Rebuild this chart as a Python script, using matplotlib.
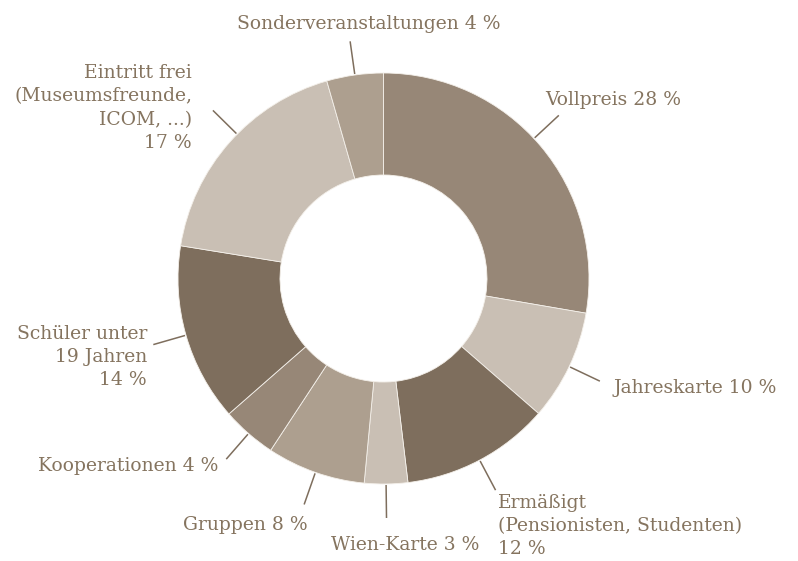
import numpy as np
import matplotlib
matplotlib.use("Agg")
import matplotlib.pyplot as plt

# shares as measured from the ring (clockwise from 12 o'clock)
categories = ["Vollpreis", "Jahreskarte", "Ermäßigt", "Wien-Karte", "Gruppen",
              "Kooperationen", "Schüler", "Eintritt frei", "Sonderveranstaltungen"]
shares = [27.7, 8.7, 11.7, 3.4, 7.75, 4.3, 14.0, 18.0, 4.45]
label_texts = [
    "Vollpreis 28 %",
    "Jahreskarte 10 %",
    "Ermäßigt\n(Pensionisten, Studenten)\n12 %",
    "Wien-Karte 3 %",
    "Gruppen 8 %",
    "Kooperationen 4 %",
    "Schüler unter\n19 Jahren\n14 %",
    "Eintritt frei\n(Museumsfreunde,\nICOM, ...)\n17 %",
    "Sonderveranstaltungen 4 %",
]

DARK = "#7e6e5d"
MID = "#978777"
TAN = "#ad9f8f"
LIGHT = "#c9bfb4"
colors = [MID, LIGHT, DARK, LIGHT, TAN, MID, DARK, LIGHT, TAN]
text_color = "#85745f"

W, H = 798, 561
cx, cy = 383.5, 278.5      # pixel coords, y from top
r_out, r_in = 205.5, 103.5

# label anchor (pixel, y from top) and horizontal alignment
label_pos = [(545, 100, "left"), (614, 388, "left"), (498, 526, "left"),
             (405, 545, "center"), (308, 525, "right"), (218, 466, "right"),
             (147, 357, "right"), (192, 108, "right"), (369, 24, "center")]
# small nudges of the leader lines away from the exact slice middle (degrees)
leader_nudge = [-2.8, 0, 0, 0, 0, 0, 0, 3.0, 0]

fig = plt.figure(figsize=(W / 100, H / 100), dpi=100)
ax = fig.add_axes([0, 0, 1, 1])

ax.pie(shares, colors=colors, radius=r_out, center=(cx, H - cy),
       startangle=90, counterclock=False,
       wedgeprops=dict(width=r_out - r_in, edgecolor="#f4f0ea", linewidth=0.6))

# leader lines at the middle of each slice
edges = np.concatenate([[0], np.cumsum(shares)]) / np.sum(shares) * 360
mids = np.deg2rad((edges[:-1] + edges[1:]) / 2 + np.array(leader_nudge))
for m in mids:
    r = np.array([r_out + 1, r_out + 34])
    xs = cx + r * np.sin(m)
    ys = H - (cy - r * np.cos(m))
    ax.plot(xs, ys, color=DARK, lw=1.1, solid_capstyle="butt")

for txt, (x, y, ha) in zip(label_texts, label_pos):
    ax.text(x, H - y, txt, ha=ha, va="center", multialignment=ha,
            fontsize=13.5, family="DejaVu Serif", color=text_color,
            linespacing=1.38)

ax.set_xlim(0, W)
ax.set_ylim(0, H)
ax.set_aspect("equal")
ax.axis("off")

fig.savefig("out.png", dpi=100)
